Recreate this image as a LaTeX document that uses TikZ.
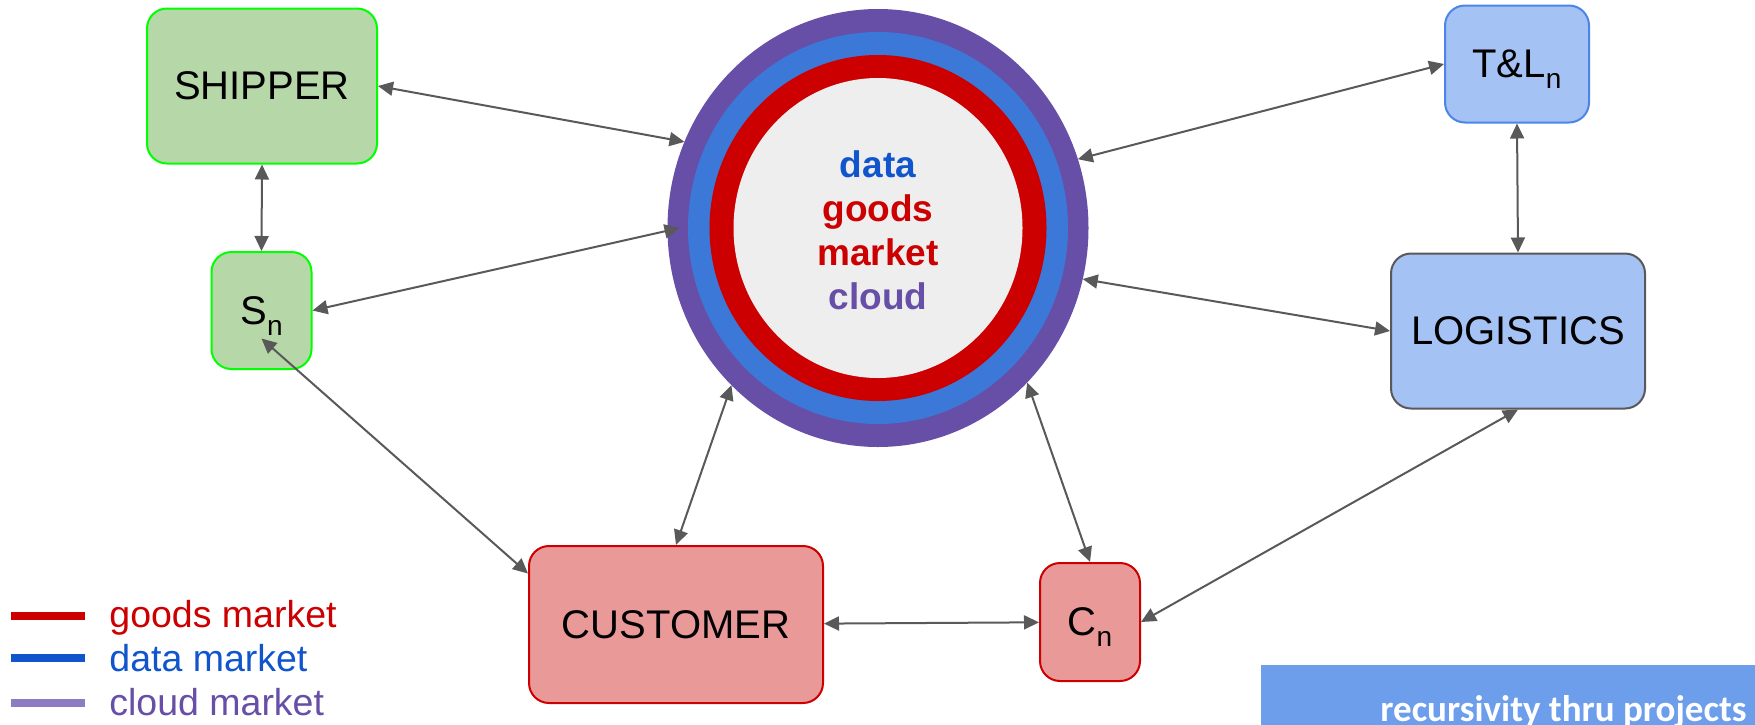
\documentclass[tikz,border=0pt]{standalone}
\usepackage{fontspec}
\setmainfont{Liberation Sans}
\newfontfamily\carlito{Carlito}
\usetikzlibrary{shapes.geometric,arrows.meta}

\definecolor{shipfill}{HTML}{B6D7A8}
\definecolor{shipedge}{HTML}{00FF00}
\definecolor{logfill}{HTML}{A4C2F4}
\definecolor{tledge}{HTML}{4A86E8}
\definecolor{logedge}{HTML}{595959}
\definecolor{custfill}{HTML}{EA9999}
\definecolor{custedge}{HTML}{CC0000}
\definecolor{linkgray}{HTML}{595959}
\definecolor{cloudpurple}{HTML}{674EA7}
\definecolor{cloudlight}{HTML}{8E7CC3}
\definecolor{ringblue}{HTML}{3C78D8}
\definecolor{datablue}{HTML}{1155CC}
\definecolor{goodsred}{HTML}{CC0000}
\definecolor{coregray}{HTML}{EEEEEE}
\definecolor{recblue}{HTML}{6D9EEB}

\begin{document}
\begin{tikzpicture}
[x=0.5pt, y=-0.5pt,
 box/.style={rectangle, rounded corners=10pt, line width=1pt, inner sep=0pt,
   font=\fontsize{20}{24}\selectfont},
 ring/.style={ellipse, inner sep=0pt, outer sep=0pt},
 link/.style={draw=linkgray, line width=1pt,
   {Triangle[length=7.5pt,width=7pt]}-{Triangle[length=7.5pt,width=7pt]}},
 legline/.style={line width=4pt},
 legtext/.style={anchor=base west, inner sep=0pt, font=\fontsize{18.75}{22}\selectfont}]
\useasboundingbox (0,0) rectangle (1755,724);

% market rings
\foreach \nm/\col/\w/\h in {cloud/cloudpurple/210.5/219, data/ringblue/190/196,
                            goods/goodsred/168.5/173, core/coregray/144.5/150}{
	\node [ring, fill=\col, minimum width=\w pt, minimum height=\h pt] (\nm) at (878,228) {};
}
\node [align=center, font=\bfseries\fontsize{18.5}{22}\selectfont] (words) at (878,230)
	{\textcolor{datablue}{data}\\ \textcolor{goodsred}{goods}\\
	 \textcolor{goodsred}{market}\\ \textcolor{cloudpurple}{cloud}};

% actors
\node [box, fill=shipfill, draw=shipedge, minimum width=115pt, minimum height=77.5pt] (shipper) at (262,86) {SHIPPER};
\node [box, fill=shipfill, draw=shipedge, minimum width=50pt, minimum height=58.5pt] (sn) at (261.5,310.5)
	{S\raisebox{-5.5pt}[0pt][0pt]{\fontsize{14}{14}\selectfont n}};
\node [box, fill=logfill, draw=tledge, minimum width=72pt, minimum height=58.5pt] (tl) at (1517,64)
	{T\&L\raisebox{-5.5pt}[0pt][0pt]{\fontsize{14}{14}\selectfont n}};
\node [box, fill=logfill, draw=logedge, minimum width=127pt, minimum height=77.5pt] (logistics) at (1518,331) {LOGISTICS};
\node [box, fill=custfill, draw=custedge, minimum width=147pt, minimum height=78.5pt] (customer) at (676,624.5) {CUSTOMER};
\node [box, fill=custfill, draw=custedge, minimum width=50pt, minimum height=59pt] (cn) at (1090,622)
	{C\raisebox{-5.5pt}[0pt][0pt]{\fontsize{14}{14}\selectfont n}};

% links
\draw [link] (shipper.east) -- (cloud.156);
\draw [link] (tl.west) -- (cloud.19);
\draw [link] (sn.east) -- ([xshift=6pt]cloud.west);
\draw [link] (cloud.346) -- (logistics.west);
\draw [link] (shipper.south) -- (sn.north);
\draw [link] (tl.south) -- (logistics.north);
\draw [link] ([yshift=-14pt]sn.center) -- (customer.161);
\draw [link] (cloud.227) -- (customer.north);
\draw [link] (cloud.314) -- (cn.north);
\draw [link] (customer) -- (cn);
\draw [link] (cn.east) -- (logistics.south);

% legend
\draw [legline, goodsred] (11,615.5) -- (85,615.5);
\draw [legline, datablue] (11,658) -- (85,658);
\draw [legline, cloudlight] (11,703) -- (85,703);
\node [legtext, text=goodsred] (leggoods) at (109,627) {goods market};
\node [legtext, text=datablue] (legdata) at (109,671) {data market};
\node [legtext, text=cloudpurple] (legcloud) at (109,715) {cloud market};

% projects banner
\node [fill=recblue, anchor=north west, minimum width=300pt, minimum height=40pt] (recur) at (1261,665) {};
\node [anchor=base, inner sep=0pt, text=white, font=\carlito\bfseries\fontsize{18.5}{22}\selectfont] (recurtext) at (1563.5,721)
	{recursivity thru projects};
\end{tikzpicture}
\end{document}
